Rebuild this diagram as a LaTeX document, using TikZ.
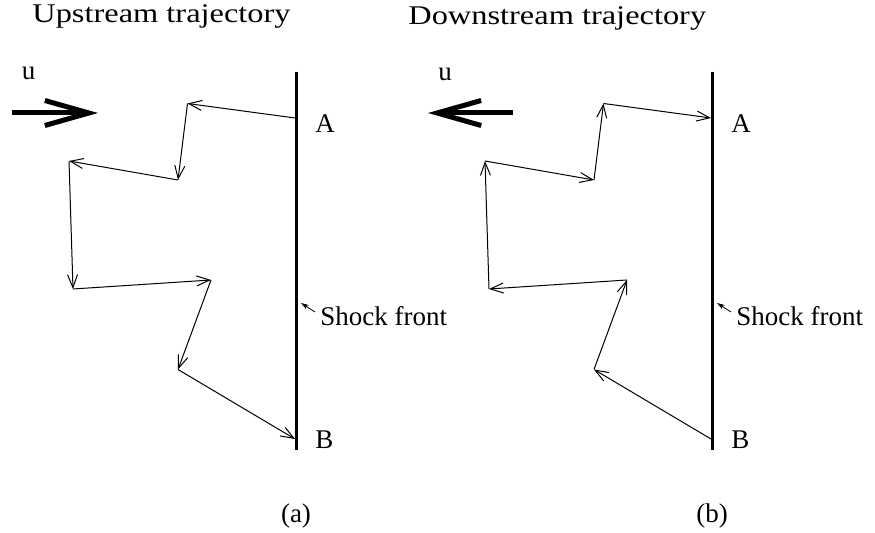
\documentclass[tikz,border=0pt]{standalone}
\usepackage{fontspec}
\setmainfont{Liberation Serif}
\usetikzlibrary{arrows.meta}

\tikzset{
  lbl/.style={font=\fontsize{13.5}{16}\selectfont, inner sep=0pt, anchor=base west},
  ttl/.style={lbl, font=\fontsize{13.5}{16}\selectfont},
  hop/.style={line width=0.5pt, -{Straight Barb[length=6.5pt,width=5pt]}},
  flow/.style={line width=2.5pt, -{Straight Barb[length=22pt,width=12.5pt]}},
  front/.style={line width=1.5pt},
  pointer/.style={line width=0.4pt, -{Stealth[length=4pt,width=2.5pt]}}
}

\begin{document}
\begin{tikzpicture}[x=0.5pt, y=-0.5pt]
\useasboundingbox (0,0) rectangle (875,533);

\node[ttl] (uptitle) at (32, 23) {\scalebox{1.2}[1]{Upstream trajectory}};
\node[ttl] (dntitle) at (408, 25) {\scalebox{1.2}[1]{Downstream trajectory}};

\foreach \p/\dx in {a/0, b/416} {
  \foreach \i/\px/\py in {0/295/118, 1/187.5/103.5, 2/178/180, 3/69/161, 4/73/289, 5/211/280, 6/178/369.5, 7/295/439}
    \coordinate (\p\i) at (\dx+\px, \py);
  \coordinate (\p top) at (\dx+296, 72);
  \coordinate (\p bot) at (\dx+296, 450);
  \draw[front] (\p top) -- (\p bot);
  \node[lbl] (\p A) at (\dx+315, 133) {A};
  \node[lbl] (\p B) at (\dx+315, 449) {B};
  \node[lbl] (\p shock) at (\dx+320, 326) {Shock front};
  \coordinate (\p tail) at (\dx+315, 312);
  \coordinate (\p tip) at (\dx+301, 303);
  \draw[pointer] (\p tail) -- (\p tip);
  \node[lbl, anchor=base] (\p cap) at (\dx+296, 523) {(\p)};
}

\node[lbl] (au) at (21.5, 80) {u};
\node[lbl] (bu) at (438, 81) {u};
\coordinate (aflow0) at (12, 113);
\coordinate (aflow1) at (98, 113);
\coordinate (bflow0) at (513, 113);
\coordinate (bflow1) at (428, 113);
\draw[flow] (aflow0) -- (aflow1);
\draw[flow] (bflow0) -- (bflow1);

\foreach \i/\j in {0/1, 1/2, 2/3, 3/4, 4/5, 5/6, 6/7} {
  \draw[hop] (a\i) -- (a\j);
  \draw[hop] (b\j) -- (b\i);
}

\end{tikzpicture}
\end{document}
